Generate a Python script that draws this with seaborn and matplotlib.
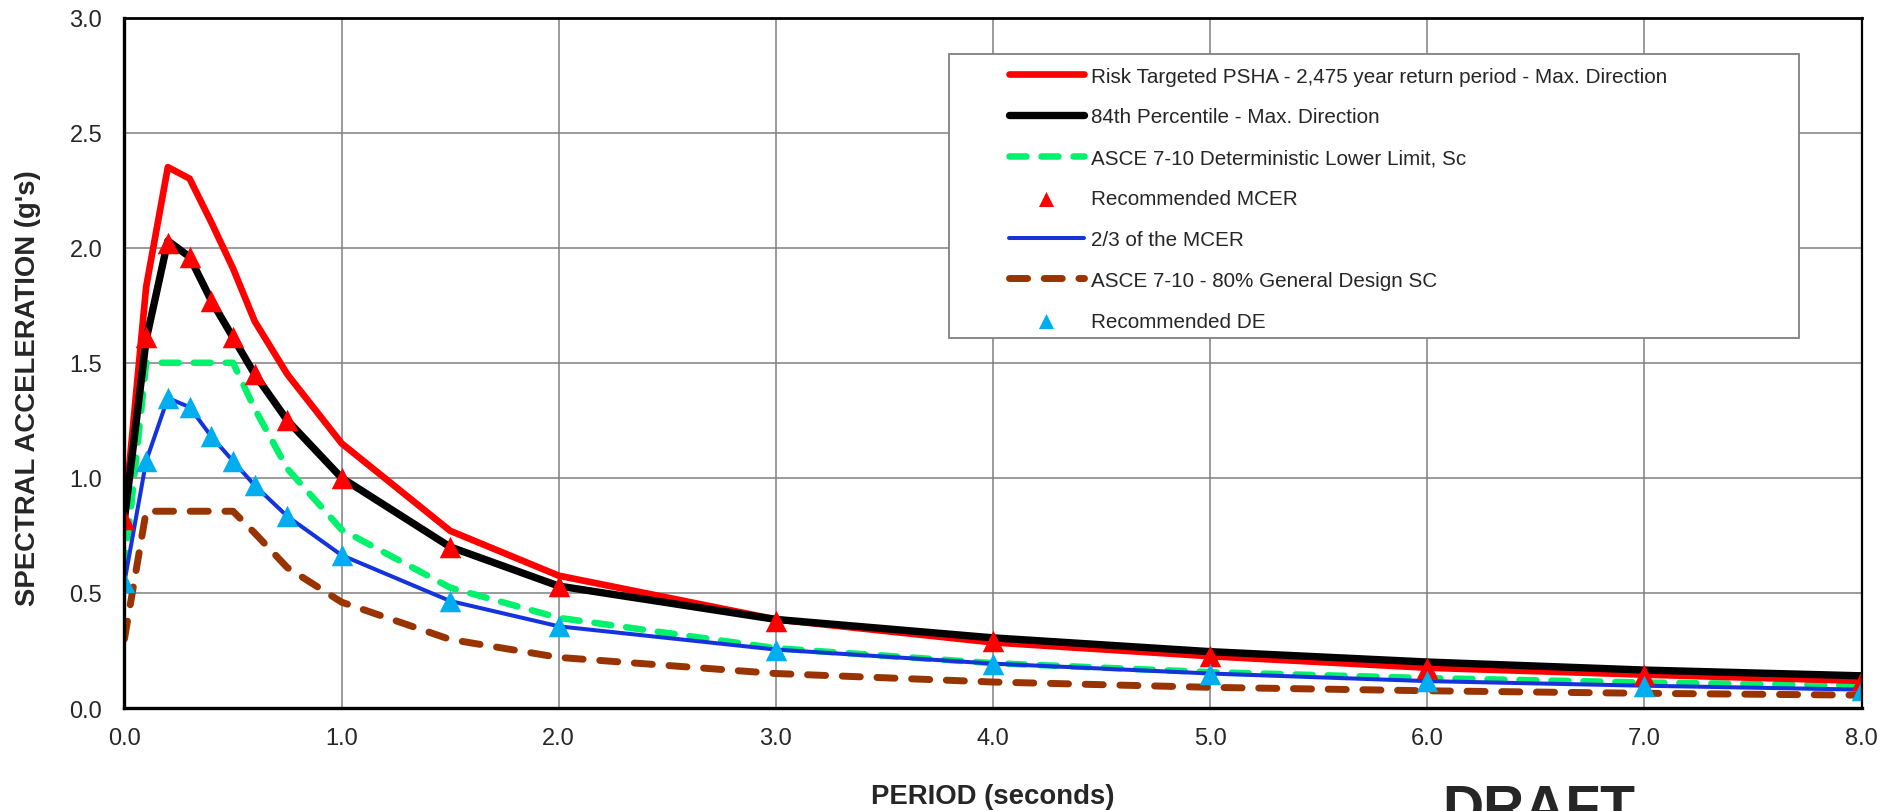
import matplotlib
matplotlib.use("Agg")
import matplotlib.pyplot as plt
import seaborn as sns
from matplotlib.ticker import MultipleLocator, FormatStrFormatter
from matplotlib.patches import Rectangle

# periods (s) used by every curve
periods = [0.0, 0.1, 0.2, 0.3, 0.4, 0.5, 0.6, 0.75, 1.0, 1.5, 2.0, 3.0, 4.0, 5.0, 6.0, 7.0, 8.0]

# spectral accelerations (g)
risk_psha = [0.83, 1.83, 2.35, 2.30, 2.11, 1.91, 1.68, 1.45, 1.15, 0.77, 0.575, 0.385, 0.285, 0.225, 0.175, 0.145, 0.118]
pctl_84 = [0.82, 1.60, 2.03, 1.96, 1.77, 1.61, 1.45, 1.25, 1.00, 0.70, 0.53, 0.385, 0.305, 0.245, 0.20, 0.165, 0.14]
det_lower = [0.60, 1.50, 1.50, 1.50, 1.50, 1.50, 1.30, 1.04, 0.775, 0.523, 0.392, 0.26, 0.195, 0.156, 0.13, 0.111, 0.098]
rec_mcer = [0.82, 1.61, 2.02, 1.96, 1.77, 1.61, 1.45, 1.25, 1.00, 0.70, 0.53, 0.38, 0.29, 0.225, 0.175, 0.145, 0.12]
rec_de = [0.547, 1.073, 1.347, 1.307, 1.18, 1.073, 0.967, 0.833, 0.664, 0.465, 0.355, 0.254, 0.193, 0.15, 0.117, 0.097, 0.08]
gen_design_80 = [0.30, 0.855, 0.855, 0.855, 0.855, 0.855, 0.76, 0.61, 0.46, 0.298, 0.22, 0.15, 0.113, 0.09, 0.075, 0.064, 0.056]

labels = [
    "Risk Targeted PSHA - 2,475 year return period - Max. Direction",
    "84th Percentile - Max. Direction",
    "ASCE 7-10 Deterministic Lower Limit, Sc",
    "Recommended MCER",
    "2/3 of the MCER",
    "ASCE 7-10 - 80% General Design SC",
    "Recommended DE",
]

sns.set_style("white")
plt.rcParams["font.family"] = ["Liberation Sans", "DejaVu Sans"]

fig, ax = plt.subplots(figsize=(19, 8.12), dpi=100)
fig.subplots_adjust(left=0.0655, right=0.9798, top=0.9772, bottom=0.1268)

handles = {}

# lines
sns.lineplot(x=periods, y=gen_design_80, color="#993300", linewidth=5.0, ax=ax, zorder=2)
ln = ax.lines[-1]
ln.set_dashes([2.6, 2.4])
ln.set_dash_capstyle("round")
handles[labels[5]] = ln

sns.lineplot(x=periods, y=det_lower, color="#00F26D", linewidth=4.7, ax=ax, zorder=2.2)
ln = ax.lines[-1]
ln.set_dashes([2.6, 2.3])
ln.set_dash_capstyle("round")
handles[labels[2]] = ln

sns.lineplot(x=periods, y=rec_de, color="#1433DD", linewidth=2.9, ax=ax, zorder=2.4)
handles[labels[4]] = ax.lines[-1]

sns.lineplot(x=periods, y=risk_psha, color="#FF0000", linewidth=4.8, ax=ax, zorder=2.6)
handles[labels[0]] = ax.lines[-1]

sns.lineplot(x=periods, y=pctl_84, color="black", linewidth=5.3, ax=ax, zorder=2.8)
handles[labels[1]] = ax.lines[-1]

# triangles
sns.scatterplot(x=periods, y=rec_mcer, marker="^", s=240, color="#FF0000", linewidth=0, ax=ax, zorder=4)
handles[labels[3]] = ax.collections[-1]
sns.scatterplot(x=periods, y=rec_de, marker="^", s=240, color="#00AEEF", linewidth=0, ax=ax, zorder=4.2)
handles[labels[6]] = ax.collections[-1]

ax.set_xlim(0, 8)
ax.set_ylim(0, 3)
ax.xaxis.set_major_locator(MultipleLocator(1))
ax.xaxis.set_minor_locator(MultipleLocator(0.2))
ax.yaxis.set_major_locator(MultipleLocator(0.5))
ax.yaxis.set_minor_locator(MultipleLocator(0.1))
ax.xaxis.set_major_formatter(FormatStrFormatter("%.1f"))
ax.yaxis.set_major_formatter(FormatStrFormatter("%.1f"))
ax.tick_params(which="both", direction="in", length=5, width=1, color="black")
ax.tick_params(axis="x", which="major", pad=14, labelsize=17)
ax.tick_params(axis="y", which="major", pad=16, labelsize=17)
ax.grid(True, which="major", color="#808080", linewidth=1.1)

for side in ["left", "bottom"]:
    ax.spines[side].set_linewidth(2.4)
ax.spines["top"].set_linewidth(2.0)
ax.spines["right"].set_linewidth(1.6)
for sp in ax.spines.values():
    sp.set_color("black")
    sp.set_zorder(5)

ax.set_xlabel("PERIOD (seconds)", fontsize=19.8, fontweight="bold")
ax.set_ylabel("SPECTRAL ACCELERATION (g's)", fontsize=19.8, fontweight="bold")
ax.xaxis.set_label_coords(0.5, -0.109)
ax.yaxis.set_label_coords(-0.048, 0.465)

# legend box drawn separately, legend itself without frame
ax.add_patch(Rectangle((0.4746, 0.536), 0.4894, 0.411, transform=ax.transAxes,
                       facecolor="white", edgecolor="#808080", linewidth=1.3, zorder=5))
leg = ax.legend([handles[l] for l in labels], labels, loc="upper left",
                bbox_to_anchor=(0.5093, 0.929), frameon=False, fontsize=14.9,
                borderpad=0, borderaxespad=0, handlelength=3.6, handletextpad=0.35,
                labelspacing=1.055, markerscale=0.7)
leg.set_zorder(6)

fig.text(0.81, -0.017, "DRAFT", ha="center", va="baseline", fontsize=41, fontweight="bold")

plt.savefig("out.png", dpi=100)
